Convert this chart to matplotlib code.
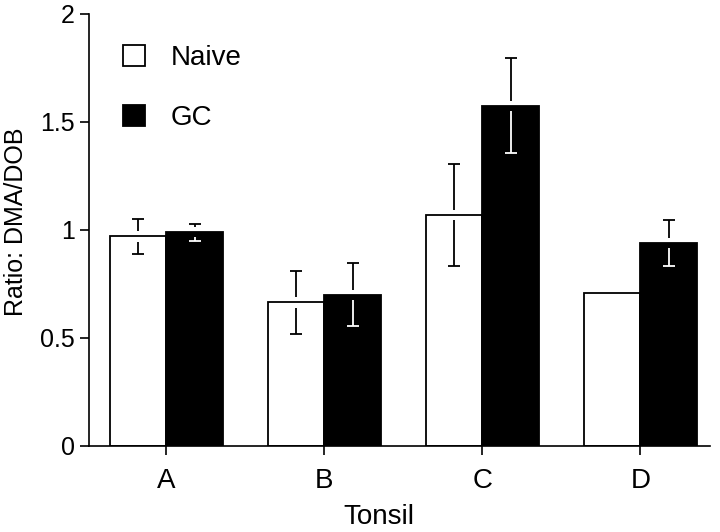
import numpy as np
import matplotlib.pyplot as plt
import matplotlib as mpl
from matplotlib.patches import Patch

mpl.rcParams.update({
    'font.family':      ['Liberation Sans', 'DejaVu Sans'],
    'font.size':        18,
    'axes.linewidth':   1.2,
    'xtick.major.width': 1.2,
    'ytick.major.width': 1.2,
    'xtick.major.size': 6.5,
    'ytick.major.size': 6.5,
})

# ── Data ──────────────────────────────────────────────────────────────────────
tonsils   = ['A', 'B', 'C', 'D']
naive     = [0.97, 0.665, 1.07, 0.71]
naive_err = [0.08, 0.145, 0.235, 0.0]
gc        = [0.99, 0.70, 1.575, 0.94]
gc_err    = [0.04, 0.145, 0.22, 0.105]
yticks    = [0, 0.5, 1, 1.5, 2]
ytick_lbl = ['0', '0.5', '1', '1.5', '2']

x = np.arange(len(tonsils))
w = 0.36
GAP = 0.024      # small break in the error line around the bar top
CAP = 0.04       # half cap width (x units)
LW = 1.3


def draw_err(ax, xs, ys, errs, c_up, c_down):
    """Error bars with a short gap either side of the bar top."""
    for xi, yi, e in zip(xs, ys, errs):
        if e <= 0:
            continue
        ax.vlines(xi, yi + min(GAP, e), yi + e, color=c_up, lw=LW, zorder=3)
        ax.hlines(yi + e, xi - CAP, xi + CAP, color=c_up, lw=LW, zorder=3)
        ax.vlines(xi, yi - e, yi - min(GAP, e), color=c_down, lw=LW, zorder=3)
        ax.hlines(yi - e, xi - CAP, xi + CAP, color=c_down, lw=LW, zorder=3)


fig = plt.figure(figsize=(7.2, 5.32), dpi=100)
ax = fig.add_axes([0.1236, 0.1617, 0.8624, 0.8120])

ax.bar(x - w / 2, naive, w, color='white', edgecolor='black', linewidth=1.3, zorder=2)
ax.bar(x + w / 2, gc, w, color='black', edgecolor='black', linewidth=1.3, zorder=2)

draw_err(ax, x - w / 2, naive, naive_err, 'black', 'black')
draw_err(ax, x + w / 2, gc, gc_err, 'black', 'white')

ax.set_xlim(-0.49, 3.44)
ax.set_ylim(0, 2)
ax.set_xticks(x)
ax.set_xticklabels(tonsils, fontsize=20)
ax.set_yticks(yticks)
ax.set_yticklabels(ytick_lbl, fontsize=18)
ax.tick_params(axis='x', pad=9)
ax.tick_params(axis='y', pad=3.5)
ax.spines['top'].set_visible(False)
ax.spines['right'].set_visible(False)
ax.set_xlabel('Tonsil', fontsize=20)
ax.set_ylabel('Ratio: DMA/DOB', fontsize=18)
ax.xaxis.set_label_coords(0.467, -0.134)
ax.yaxis.set_label_coords(-0.098, 0.52)

handles = [Patch(facecolor='white', edgecolor='black', linewidth=1.3),
           Patch(facecolor='black', edgecolor='black', linewidth=1.3)]
ax.legend(handles, ['Naive', 'GC'], loc='upper left', bbox_to_anchor=(0.055, 0.928),
          frameon=False, fontsize=20, handlelength=0.8, handleheight=0.8,
          handletextpad=0.9, labelspacing=1.2, borderpad=0, borderaxespad=0)

fig.savefig('out.png', dpi=100)
